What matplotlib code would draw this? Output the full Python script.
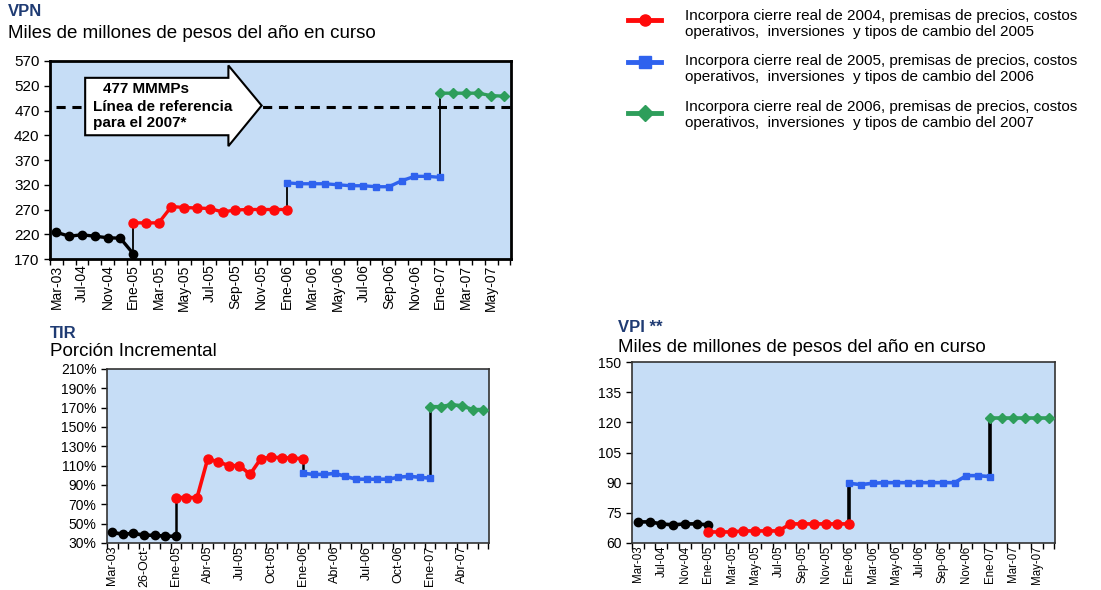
import matplotlib.pyplot as plt
import numpy as np
from matplotlib.lines import Line2D
from matplotlib.patches import Polygon
from matplotlib.ticker import FuncFormatter

plt.rcParams["font.family"] = ["Liberation Sans", "DejaVu Sans"]

# etiquetas del eje x (36 categorias por grafica)
vpn_labels = ["Mar-03", "Jul-04", "Nov-04", "Ene-05", "Mar-05", "May-05", "Jul-05", "Sep-05",
              "Nov-05", "Ene-06", "Mar-06", "May-06", "Jul-06", "Sep-06", "Nov-06", "Ene-07",
              "Mar-07", "May-07"]
tir_labels = ["Mar-03", "26-Oct-", "Ene-05", "Abr-05", "Jul-05", "Oct-05", "Ene-06", "Abr-06",
              "Jul-06", "Oct-06", "Ene-07", "Abr-07"]
vpi_labels = vpn_labels

# VPN (miles de millones de pesos)
vpn_black = [224, 216, 219, 216, 213, 212, 181]
vpn_red = [243, 243, 243, 276, 274, 273, 272, 265, 269, 270, 270, 270, 270]
vpn_blue = [324, 322, 322, 322, 320, 318, 318, 316, 316, 328, 337, 337, 335]
vpn_green = [505, 505, 505, 505, 500, 499]
vpn_ref = 477

# TIR (%)
tir_black = [41, 39, 40, 38, 38, 37, 37]
tir_red = [77, 77, 77, 117, 114, 110, 110, 101, 117, 119, 118, 118, 117]
tir_blue = [102, 101, 101, 102, 99, 96, 96, 96, 96, 98, 99, 98, 97]
tir_green = [171, 171, 173, 172, 168, 168]

# VPI
vpi_black = [70.5, 70.5, 69.5, 69, 69.5, 69.5, 69]
vpi_red = [65.5, 65.5, 65.5, 66, 66, 66, 66, 69.5, 69.5, 69.5, 69.5, 69.5, 69.5]
vpi_blue = [89.7, 89, 89.7, 90, 90, 90, 90, 90, 90, 90, 93.5, 93.5, 93]
vpi_green = [122.4, 122.4, 122.4, 122.4, 122.4, 122.4]

legend_labels = [
    "Incorpora cierre real de 2004, premisas de precios, costos\noperativos,  inversiones  y tipos de cambio del 2005",
    "Incorpora cierre real de 2005, premisas de precios, costos\noperativos,  inversiones  y tipos de cambio del 2006",
    "Incorpora cierre real de 2006, premisas de precios, costos\noperativos,  inversiones  y tipos de cambio del 2007",
]

BG = "#C6DDF6"
RED = "#FF0A0A"
BLUE = "#2F62EE"
GREEN = "#2E9E5B"
NAVY = "#1F3B73"
STYLES = [("black", "o", 6), (RED, "o", 6.5), (BLUE, "s", 5), (GREEN, "D", 5.5)]

W, H = 1101, 590
fig = plt.figure(figsize=(W / 100, H / 100), dpi=100)


def px_axes(left, top, right, bottom):
    return fig.add_axes([left / W, 1 - bottom / H, (right - left) / W, (bottom - top) / H])


def draw_chart(ax, segments, labels, step, lw, conn_lw, xfs):
    start = 0
    prev_end = None
    for seg, (color, marker, ms) in zip(segments, STYLES):
        x = np.arange(start, start + len(seg))
        if prev_end is not None:
            ax.vlines(start, prev_end, seg[0], color="black", lw=conn_lw, zorder=2)
        ax.plot(x, seg, color=color, lw=lw, marker=marker, ms=ms, zorder=3)
        prev_end = seg[-1]
        start = start + len(seg) - 1
    n = start + 1
    ax.set_facecolor(BG)
    ax.set_xlim(-0.35, n - 0.45)
    ax.set_xticks(np.arange(0, len(labels) * step, step))
    ax.set_xticklabels(labels, rotation=90, fontsize=xfs)
    ax.set_xticks(np.arange(-0.5, n, 1), minor=True)
    ax.tick_params(axis="x", which="major", length=0, pad=4)
    ax.tick_params(axis="x", which="minor", length=4, width=1)
    ax.tick_params(axis="y", length=4, width=1, labelsize=10)


# --- VPN ---
ax1 = px_axes(50, 61, 511, 259)
draw_chart(ax1, [vpn_black, vpn_red, vpn_blue, vpn_green], vpn_labels, 2, 2.4, 1.3, 10)
ax1.hlines(vpn_ref, 0, 35.5, colors="black", linestyles=(0, (3, 2.2)), lw=2.2, zorder=1)
ax1.set_ylim(170, 570)
ax1.set_yticks(np.arange(170, 571, 50))
ax1.tick_params(axis="y", labelsize=11)
for s in ax1.spines.values():
    s.set_linewidth(2)

arrow = Polygon([[2.25, 536], [13.45, 536], [13.45, 561], [16.05, 480],
                 [13.45, 398], [13.45, 420], [2.25, 420]],
                closed=True, facecolor="white", edgecolor="black", lw=1.5, zorder=4)
ax1.add_patch(arrow)
ax1.text(7.0, 513, "477 MMMPs", ha="center", va="center", fontsize=11, fontweight="bold", zorder=5)
ax1.text(2.9, 477, "Línea de referencia", ha="left", va="center", fontsize=11, fontweight="bold", zorder=5)
ax1.text(2.9, 445, "para el 2007*", ha="left", va="center", fontsize=11, fontweight="bold", zorder=5)

# --- TIR ---
ax2 = px_axes(107, 369, 489, 543)
draw_chart(ax2, [tir_black, tir_red, tir_blue, tir_green], tir_labels, 3, 2.6, 1.8, 9)
ax2.tick_params(axis="x", which="major", pad=2)
ax2.set_ylim(30, 210)
ax2.set_yticks(np.arange(30, 211, 20))
ax2.yaxis.set_major_formatter(FuncFormatter(lambda v, p: f"{v:.0f}%"))
for s in ax2.spines.values():
    s.set_linewidth(1.2)
    s.set_color("#333333")

# --- VPI ---
ax3 = px_axes(632, 362, 1055, 543)
draw_chart(ax3, [vpi_black, vpi_red, vpi_blue, vpi_green], vpi_labels, 2, 2.6, 2.6, 8.3)
ax3.tick_params(axis="x", which="major", pad=2)
ax3.set_ylim(60, 150)
ax3.set_yticks(np.arange(60, 151, 15))
for s in ax3.spines.values():
    s.set_linewidth(1.2)
    s.set_color("#333333")

# titulos
fig.text(8 / W, 1 - 12 / H, "VPN", fontsize=12, fontweight="bold", color=NAVY, va="center")
fig.text(8 / W, 1 - 34 / H, "Miles de millones de pesos del año en curso", fontsize=13.5, va="center")
fig.text(50 / W, 1 - 333 / H, "TIR", fontsize=12, fontweight="bold", color=NAVY, va="center")
fig.text(50 / W, 1 - 352 / H, "Porción Incremental", fontsize=13.5, va="center")
fig.text(618 / W, 1 - 327 / H, "VPI **", fontsize=12, fontweight="bold", color=NAVY, va="center")
fig.text(618 / W, 1 - 347 / H, "Miles de millones de pesos del año en curso", fontsize=13.5, va="center")

# leyenda (dibujada a mano para controlar el interlineado)
leg_style = [(RED, "o", 8), (BLUE, "s", 9), (GREEN, "D", 8)]
leg_rows = [(20, 24), (62, 69), (113, 115)]  # (marcador, centro del texto) en px desde arriba
for (color, marker, ms), (ym, yt), label in zip(leg_style, leg_rows, legend_labels):
    fig.add_artist(Line2D([628 / W, 661 / W], [1 - ym / H] * 2, color=color, lw=3.5,
                          transform=fig.transFigure))
    fig.add_artist(Line2D([644.5 / W], [1 - ym / H], color=color, marker=marker, ms=ms,
                          transform=fig.transFigure))
    fig.text(685 / W, 1 - yt / H, label, fontsize=11, va="center", linespacing=1.1)

fig.savefig("out.png", dpi=100)
